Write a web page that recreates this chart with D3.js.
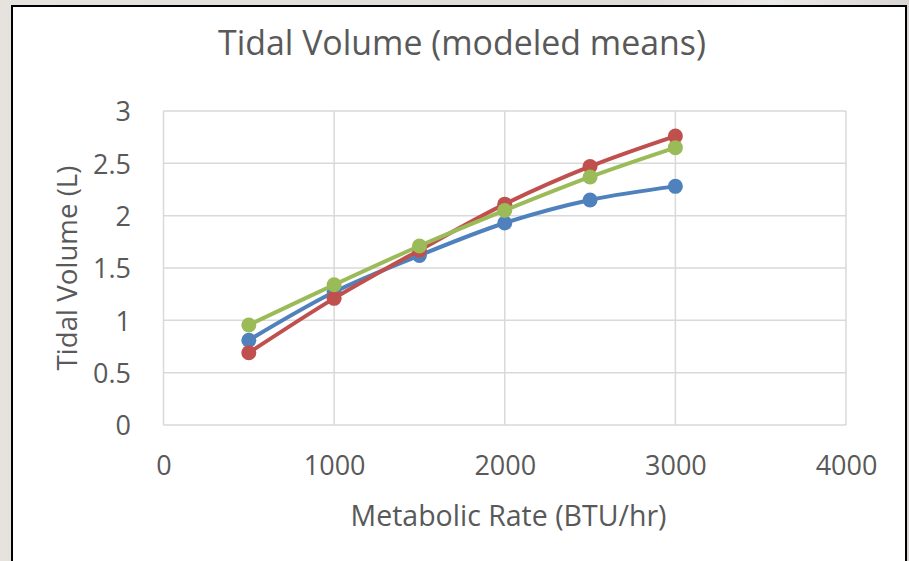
<!DOCTYPE html>
<html>
<head>
<meta charset="utf-8">
<script src="https://cdn.jsdelivr.net/npm/d3@7"></script>
<style>
  html, body { margin: 0; padding: 0; background: #e3dfdb; }
  svg { display: block; }
</style>
</head>
<body>
<svg id="chart" width="909" height="561"></svg>
<script>
const xValues = [500, 1000, 1500, 2000, 2500, 3000];
const seriesBlue = [0.81, 1.27, 1.62, 1.93, 2.15, 2.28];
const seriesRed = [0.69, 1.21, 1.67, 2.11, 2.47, 2.76];
const seriesGreen = [0.955, 1.34, 1.71, 2.05, 2.37, 2.65];
const seriesColors = ["#4F81BD", "#C0504D", "#9BBB59"];
const xTicks = [0, 1000, 2000, 3000, 4000];
const yTicks = [0, 0.5, 1, 1.5, 2, 2.5, 3];
const titleText = "Tidal Volume (modeled means)";
const xTitle = "Metabolic Rate (BTU/hr)";
const yTitle = "Tidal Volume (L)";

const svg = d3.select("#chart");
const font = "'Open Sans', 'Noto Sans', sans-serif";
const textColor = "#595959";

// background gradient outside chart box
const defs = svg.append("defs");
const grad = defs.append("linearGradient").attr("id", "bg").attr("x1", 0).attr("x2", 1).attr("y1", 0).attr("y2", 0);
grad.append("stop").attr("offset", 0).attr("stop-color", "#e6e2de");
grad.append("stop").attr("offset", 0.7).attr("stop-color", "#dedad6");
grad.append("stop").attr("offset", 0.85).attr("stop-color", "#eceae8");
grad.append("stop").attr("offset", 1).attr("stop-color", "#d8d5d2");
svg.append("rect").attr("width", 909).attr("height", 561).attr("fill", "url(#bg)");

// chart box
svg.append("rect").attr("x", 12).attr("y", 6).attr("width", 894).attr("height", 580)
  .attr("fill", "#ffffff").attr("stroke", "#000").attr("stroke-width", 2);

const plot = { left: 163.5, right: 846, top: 111, bottom: 425 };
const x = d3.scaleLinear().domain([0, 4000]).range([plot.left, plot.right]);
const y = d3.scaleLinear().domain([0, 3]).range([plot.bottom, plot.top]);

// gridlines
const grid = svg.append("g").attr("stroke", "#d9d9d9").attr("stroke-width", 1.5);
grid.selectAll("line.h").data(yTicks).join("line").attr("class", "h")
  .attr("x1", plot.left).attr("x2", plot.right).attr("y1", d => y(d)).attr("y2", d => y(d));
grid.selectAll("line.v").data(xTicks).join("line").attr("class", "v")
  .attr("y1", plot.top).attr("y2", plot.bottom).attr("x1", d => x(d)).attr("x2", d => x(d));

// axes (labels only)
const xAxis = svg.append("g").attr("transform", `translate(0,${plot.bottom})`)
  .call(d3.axisBottom(x).tickValues(xTicks).tickSize(0).tickPadding(0).tickFormat(d3.format("d")));
xAxis.select(".domain").remove();
xAxis.selectAll("text").attr("y", 50).attr("dy", null)
  .attr("font-family", font).attr("font-size", 27).attr("fill", textColor);

const yAxis = svg.append("g").attr("transform", `translate(131,0)`)
  .call(d3.axisLeft(y).tickValues(yTicks).tickSize(0).tickPadding(0).tickFormat(d => String(d)));
yAxis.select(".domain").remove();
yAxis.selectAll("text").attr("x", 0).attr("dy", "0.36em")
  .attr("font-family", font).attr("font-size", 27).attr("fill", textColor);

function fitText(sel, targetWidth, startSize) {
  sel.attr("font-size", startSize);
  const w = sel.node().getComputedTextLength();
  if (w > 0) sel.attr("font-size", startSize * targetWidth / w);
}

const title = svg.append("text").attr("x", 462).attr("y", 55).attr("text-anchor", "middle")
  .attr("font-family", font).attr("fill", textColor).text(titleText);
fitText(title, 488, 32);

const xt = svg.append("text").attr("x", 508.5).attr("y", 526).attr("text-anchor", "middle")
  .attr("font-family", font).attr("fill", textColor).text(xTitle);
fitText(xt, 316, 28);

const yt = svg.append("text").attr("transform", "translate(77,268) rotate(-90)").attr("text-anchor", "middle")
  .attr("font-family", font).attr("fill", textColor).text(yTitle);
fitText(yt, 205, 28);

// series
const allSeries = [seriesBlue, seriesRed, seriesGreen];
const line = d3.line().x((d, i) => x(xValues[i])).y(d => y(d)).curve(d3.curveCardinal.tension(0));
allSeries.forEach((vals, si) => {
  const g = svg.append("g");
  g.append("path").datum(vals).attr("d", line).attr("fill", "none")
    .attr("stroke", seriesColors[si]).attr("stroke-width", 4).attr("stroke-linecap", "round");
  g.selectAll("circle").data(vals).join("circle")
    .attr("cx", (d, i) => x(xValues[i])).attr("cy", d => y(d)).attr("r", 7.5)
    .attr("fill", seriesColors[si]);
});
</script>
</body>
</html>
